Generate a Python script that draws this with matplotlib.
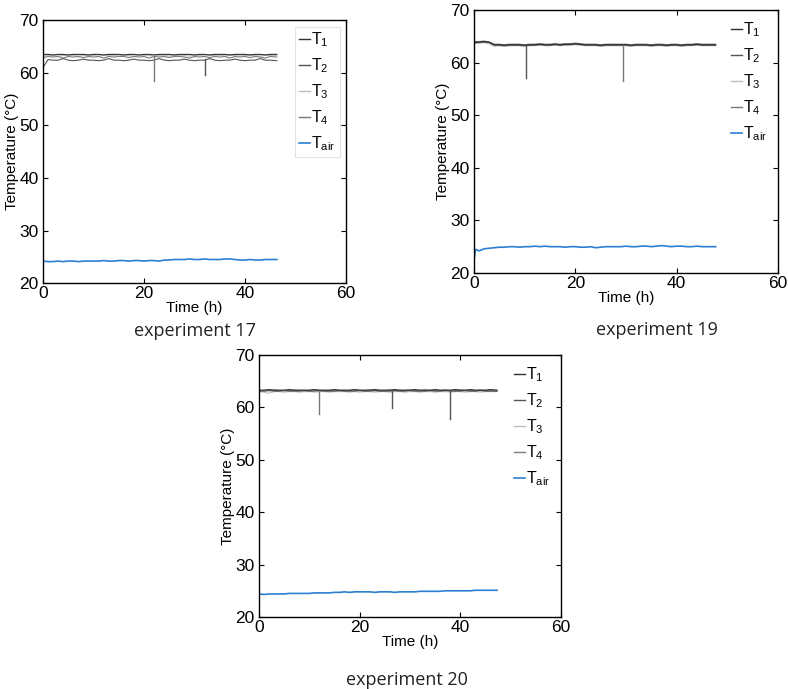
import matplotlib
matplotlib.use("Agg")
import matplotlib.pyplot as plt

plt.rcParams['font.family'] = ['Liberation Sans', 'DejaVu Sans']
plt.rcParams['mathtext.fontset'] = 'custom'
plt.rcParams['mathtext.rm'] = 'Liberation Sans'
plt.rcParams['mathtext.it'] = 'Liberation Sans'

# ---- experiment 17 ----
time17 = [0, 1, 2, 3, 4, 5, 6, 7, 8, 9,
          10, 11, 12, 13, 14, 15, 16, 17, 18, 19,
          20, 21, 22, 23, 24, 25, 26, 27, 28, 29,
          30, 31, 32, 33, 34, 35, 36, 37, 38, 39,
          40, 41, 42, 43, 44, 45, 46.3]
t1_17 = [63.5, 63.5, 63.4, 63.5, 63.5, 63.4, 63.5, 63.5, 63.5, 63.4,
         63.5, 63.5, 63.4, 63.5, 63.5, 63.5, 63.4, 63.5, 63.5, 63.4,
         63.5, 63.5, 63.4, 63.5, 63.5, 63.5, 63.4, 63.5, 63.5, 63.5,
         63.4, 63.5, 63.5, 63.4, 63.5, 63.5, 63.5, 63.4, 63.5, 63.5,
         63.5, 63.4, 63.5, 63.5, 63.4, 63.5, 63.5]
t2_17 = [61.0, 62.5, 62.4, 62.4, 62.7, 62.4, 62.3, 62.4, 62.6, 62.4,
         62.4, 62.3, 62.4, 62.7, 62.4, 62.4, 62.3, 62.4, 62.6, 62.4,
         62.4, 62.3, 62.4, 62.7, 62.4, 62.3, 62.4, 62.4, 62.6, 62.4,
         62.3, 62.4, 62.4, 62.7, 62.4, 62.3, 62.4, 62.4, 62.6, 62.4,
         62.3, 62.4, 62.4, 62.7, 62.4, 62.4, 62.3]
t3_17 = [63.2, 63.3, 63.3, 63.2, 63.3, 63.3, 63.3, 63.2, 63.3, 63.3,
         63.3, 63.2, 63.3, 63.3, 63.3, 63.2, 63.3, 63.3, 63.2, 63.3,
         63.3, 63.3, 63.2, 63.3, 63.3, 63.2, 63.3, 63.3, 63.3, 63.2,
         63.3, 63.3, 63.2, 63.3, 63.3, 63.3, 63.2, 63.3, 63.3, 63.2,
         63.3, 63.3, 63.3, 63.2, 63.3, 63.3, 63.3]
t4_17 = [62.9, 63.1, 63.0, 63.1, 62.8, 63.1, 63.0, 63.1, 62.9, 63.1,
         63.0, 63.1, 62.8, 63.1, 63.0, 63.1, 63.1, 62.9, 63.1, 63.0,
         63.1, 62.8, 63.1, 63.0, 63.1, 62.9, 63.1, 63.1, 63.0, 62.8,
         63.1, 63.0, 63.1, 62.9, 63.1, 63.0, 63.1, 62.8, 63.1, 63.0,
         63.1, 62.9, 63.1, 63.0, 62.8, 63.1, 63.0]
tair_17 = [24.2, 24.1, 24.1, 24.2, 24.1, 24.2, 24.2, 24.1, 24.2, 24.2,
           24.2, 24.2, 24.3, 24.2, 24.2, 24.3, 24.3, 24.2, 24.3, 24.3,
           24.2, 24.3, 24.3, 24.2, 24.4, 24.4, 24.5, 24.5, 24.5, 24.6,
           24.5, 24.5, 24.6, 24.5, 24.5, 24.5, 24.6, 24.6, 24.5, 24.4,
           24.4, 24.5, 24.4, 24.4, 24.5, 24.5, 24.5]
dip17_time = [22, 32]
dip17_top = [63.1, 62.6]
dip17_low = [58.5, 59.5]
dip17_sensor = [4, 2]

# ---- experiment 19 ----
time19 = [0, 0.3, 1, 2, 3, 4, 5, 6, 7, 8,
          9, 10, 11, 12, 13, 14, 15, 16, 17, 18,
          19, 20, 21, 22, 23, 24, 25, 26, 27, 28,
          29, 30, 31, 32, 33, 34, 35, 36, 37, 38,
          39, 40, 41, 42, 43, 44, 45, 46, 47.7]
t1_19 = [63.6, 63.9, 63.9, 64.0, 63.9, 63.4, 63.4, 63.3, 63.4, 63.4,
         63.4, 63.3, 63.4, 63.4, 63.5, 63.4, 63.4, 63.5, 63.4, 63.5,
         63.5, 63.6, 63.5, 63.4, 63.4, 63.4, 63.3, 63.4, 63.4, 63.4,
         63.4, 63.4, 63.3, 63.4, 63.4, 63.4, 63.3, 63.4, 63.4, 63.3,
         63.4, 63.4, 63.3, 63.4, 63.4, 63.5, 63.4, 63.4, 63.4]
t2_19 = [63.5, 63.8, 63.8, 63.9, 63.8, 63.3, 63.3, 63.2, 63.3, 63.3,
         63.3, 63.2, 63.3, 63.3, 63.4, 63.3, 63.3, 63.4, 63.3, 63.4,
         63.4, 63.5, 63.4, 63.3, 63.3, 63.3, 63.2, 63.3, 63.3, 63.3,
         63.3, 63.3, 63.2, 63.3, 63.3, 63.3, 63.2, 63.3, 63.3, 63.2,
         63.3, 63.3, 63.2, 63.3, 63.3, 63.4, 63.3, 63.3, 63.3]
t3_19 = [63.4, 63.7, 63.7, 63.8, 63.6, 63.1, 63.2, 63.1, 63.2, 63.2,
         63.2, 63.1, 63.2, 63.2, 63.3, 63.2, 63.2, 63.3, 63.2, 63.3,
         63.3, 63.4, 63.3, 63.2, 63.2, 63.2, 63.1, 63.2, 63.2, 63.2,
         63.2, 63.2, 63.1, 63.2, 63.2, 63.2, 63.1, 63.2, 63.2, 63.1,
         63.2, 63.2, 63.1, 63.2, 63.2, 63.3, 63.2, 63.2, 63.2]
t4_19 = [63.7, 64.0, 64.0, 64.1, 63.9, 63.5, 63.5, 63.4, 63.5, 63.5,
         63.5, 63.4, 63.5, 63.5, 63.6, 63.5, 63.5, 63.6, 63.5, 63.6,
         63.6, 63.7, 63.6, 63.5, 63.5, 63.5, 63.4, 63.5, 63.5, 63.5,
         63.5, 63.5, 63.4, 63.5, 63.5, 63.5, 63.4, 63.5, 63.5, 63.4,
         63.5, 63.5, 63.4, 63.5, 63.5, 63.6, 63.5, 63.5, 63.5]
tair_19 = [22.3, 24.5, 24.2, 24.6, 24.7, 24.8, 24.9, 24.9, 25.0, 25.0,
           24.9, 25.0, 25.0, 25.1, 25.0, 25.1, 25.0, 25.0, 25.0, 24.9,
           25.0, 25.0, 24.9, 24.9, 25.0, 24.8, 24.9, 25.0, 25.0, 25.0,
           25.0, 25.1, 25.0, 25.0, 25.1, 25.1, 25.0, 25.1, 25.2, 25.1,
           25.0, 25.1, 25.1, 25.0, 25.0, 25.1, 25.0, 25.0, 25.0]
dip19_time = [10.3, 29.5]
dip19_top = [63.3, 63.3]
dip19_low = [57.0, 56.5]
dip19_sensor = [2, 4]

# ---- experiment 20 ----
time20 = [0, 1, 2, 3, 4, 5, 6, 7, 8, 9,
          10, 11, 12, 13, 14, 15, 16, 17, 18, 19,
          20, 21, 22, 23, 24, 25, 26, 27, 28, 29,
          30, 31, 32, 33, 34, 35, 36, 37, 38, 39,
          40, 41, 42, 43, 44, 45, 46, 47.3]
t1_20 = [63.3, 63.3, 63.4, 63.3, 63.3, 63.3, 63.4, 63.3, 63.3, 63.3,
         63.3, 63.4, 63.3, 63.3, 63.3, 63.4, 63.3, 63.3, 63.3, 63.4,
         63.3, 63.3, 63.3, 63.4, 63.3, 63.3, 63.3, 63.4, 63.3, 63.3,
         63.3, 63.4, 63.3, 63.3, 63.3, 63.4, 63.3, 63.3, 63.3, 63.4,
         63.3, 63.3, 63.4, 63.3, 63.3, 63.3, 63.4, 63.3]
t2_20 = [63.1, 63.1, 63.2, 63.1, 63.1, 63.2, 63.1, 63.1, 63.1, 63.2,
         63.1, 63.1, 63.2, 63.1, 63.1, 63.1, 63.2, 63.1, 63.1, 63.1,
         63.2, 63.1, 63.1, 63.2, 63.1, 63.1, 63.1, 63.2, 63.1, 63.1,
         63.2, 63.1, 63.1, 63.1, 63.2, 63.1, 63.1, 63.2, 63.1, 63.1,
         63.1, 63.2, 63.1, 63.1, 63.2, 63.1, 63.1, 63.1]
t3_20 = [63.0, 62.9, 62.7, 63.0, 63.0, 62.9, 63.0, 63.0, 62.9, 63.0,
         63.0, 62.9, 63.0, 63.0, 62.9, 63.0, 63.0, 63.0, 62.9, 63.0,
         62.9, 63.0, 63.0, 62.9, 63.0, 63.0, 62.9, 63.0, 63.0, 62.9,
         63.0, 63.0, 62.9, 63.0, 63.0, 62.9, 63.0, 63.0, 62.9, 63.0,
         63.0, 62.9, 63.0, 63.0, 62.9, 63.0, 63.0, 63.0]
t4_20 = [63.2, 63.2, 63.2, 63.3, 63.2, 63.2, 63.2, 63.3, 63.2, 63.2,
         63.2, 63.3, 63.2, 63.2, 63.2, 63.3, 63.2, 63.2, 63.2, 63.3,
         63.2, 63.2, 63.3, 63.2, 63.2, 63.2, 63.3, 63.2, 63.2, 63.2,
         63.3, 63.2, 63.2, 63.3, 63.2, 63.2, 63.2, 63.3, 63.2, 63.2,
         63.3, 63.2, 63.2, 63.2, 63.3, 63.2, 63.2, 63.2]
tair_20 = [24.4, 24.3, 24.4, 24.4, 24.4, 24.4, 24.5, 24.5, 24.5, 24.5,
           24.5, 24.6, 24.6, 24.6, 24.6, 24.7, 24.7, 24.8, 24.7, 24.8,
           24.8, 24.8, 24.8, 24.7, 24.8, 24.8, 24.8, 24.7, 24.8, 24.8,
           24.8, 24.8, 24.9, 24.9, 24.9, 24.9, 24.9, 25.0, 25.0, 25.0,
           25.0, 25.0, 25.0, 25.1, 25.1, 25.1, 25.1, 25.1]
dip20_time = [12, 26.5, 38]
dip20_top = [63.2, 63.1, 63.1]
dip20_low = [58.8, 59.9, 57.8]
dip20_sensor = [4, 2, 2]

x_ticks = [0, 20, 40, 60]
y_ticks = [20, 30, 40, 50, 60, 70]
captions = ["experiment 17", "experiment 19", "experiment 20"]

sensor_colors = {1: '#2e2e2e', 2: '#555555', 3: '#bdbdbd', 4: '#7a7a7a'}
air_color = '#2b7fd2'

experiments = [
    (time17, [t1_17, t2_17, t3_17, t4_17], tair_17,
     (dip17_time, dip17_top, dip17_low, dip17_sensor)),
    (time19, [t1_19, t2_19, t3_19, t4_19], tair_19,
     (dip19_time, dip19_top, dip19_low, dip19_sensor)),
    (time20, [t1_20, t2_20, t3_20, t4_20], tair_20,
     (dip20_time, dip20_top, dip20_low, dip20_sensor)),
]

ax_rects = [
    [0.0546, 0.589, 0.3845, 0.3817],
    [0.6015, 0.6038, 0.3858, 0.3817],
    [0.3287, 0.1045, 0.3832, 0.3803],
]
caption_pos = [(0.2475, 0.519), (0.834, 0.521), (0.5165, 0.0125)]
legend_frame = [True, False, False]

fig = plt.figure(figsize=(7.88, 6.89), dpi=100)

for k, (time, sensors, tair, dips) in enumerate(experiments):
    ax = fig.add_axes(ax_rects[k])
    # draw light to dark so the dark traces stay on top
    for idx in [3, 4, 2, 1]:
        ax.plot(time, sensors[idx - 1], color=sensor_colors[idx], lw=0.8,
                zorder=2)
    for idx in [1, 2, 3, 4]:
        ax.plot([], [], color=sensor_colors[idx], lw=1.0,
                label=f'T$_{idx}$')
    ax.plot(time, tair, color=air_color, lw=1.2, label=r'T$_{\mathrm{air}}$')

    d_time, d_top, d_low, d_sensor = dips
    for t, hi, lo, s in zip(d_time, d_top, d_low, d_sensor):
        ax.plot([t, t], [hi, lo], color=sensor_colors[s], lw=1.0, zorder=3)

    ax.set_xlim(0, 60)
    ax.set_ylim(20, 70)
    ax.set_xticks(x_ticks)
    ax.set_yticks(y_ticks)
    ax.tick_params(direction='in', length=3.5, width=0.8, labelsize=12.5,
                   top=True, right=True)
    ax.tick_params(axis='x', pad=2)
    ax.tick_params(axis='y', pad=3)
    for sp in ax.spines.values():
        sp.set_linewidth(1.0)
    ax.set_xlabel('Time (h)', fontsize=11, labelpad=0)
    ax.set_ylabel('Temperature (°C)', fontsize=11, labelpad=0)

    leg = ax.legend(loc='upper right', fontsize=11.5, frameon=legend_frame[k],
                    fancybox=False, handlelength=0.65, handletextpad=0.1,
                    labelspacing=0.46, borderpad=0.25, borderaxespad=0.4)
    if legend_frame[k]:
        leg.get_frame().set_edgecolor('#dddddd')
        leg.get_frame().set_linewidth(0.8)

    fig.text(caption_pos[k][0], caption_pos[k][1], captions[k],
             ha='center', va='center', fontsize=13, family='Open Sans',
             color='#222222')

fig.savefig('out.png', dpi=100)
